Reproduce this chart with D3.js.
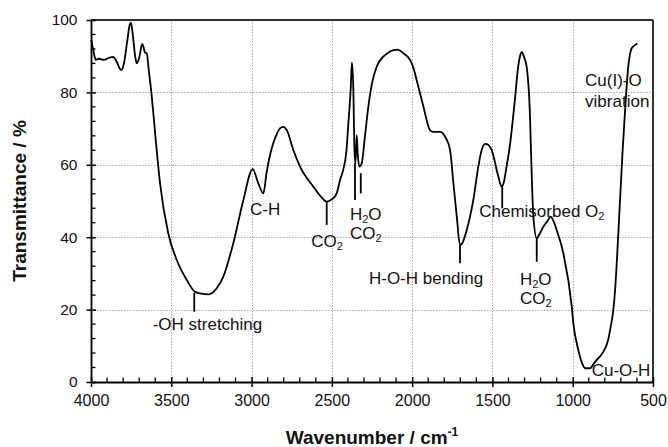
<!DOCTYPE html>
<html><head><meta charset="utf-8">
<script src="https://cdn.jsdelivr.net/npm/d3@7"></script>
<style>
html,body{margin:0;padding:0;background:#fff;}
svg text{font-family:"Liberation Sans",Arial,sans-serif;}
</style></head>
<body>
<svg id="chart" width="668" height="447"></svg>
<script>
// ---- data ----
const wavenumber = [3998,3986,3971,3950,3920,3890,3863,3840,3820,3809,3795,3775,3760,3751,3740,3725,3715,3700,3681,3670,3664,3653,3640,3628,3591,3570,3519,3466,3404,3352,3321,3269,3217,3176,3114,3051,2993,2958,2927,2906,2875,2843,2820,2802,2780,2740,2698,2616,2560,2532,2500,2470,2449,2430,2410,2397,2383,2375,2366,2360,2353,2345,2339,2329,2314,2294,2273,2250,2221,2180,2169,2117,2090,2055,2013,1990,1972,1930,1889,1868,1826,1795,1764,1743,1722,1702,1690,1660,1619,1588,1567,1545,1525,1505,1463,1443,1430,1412,1395,1360,1340,1325,1318,1305,1287,1266,1260,1245,1224,1210,1183,1160,1137,1120,1100,1058,1006,996,965,940,923,892,870,850,809,780,767,747,736,716,689,670,654,633,615,598];
const transmittance = [94.5,91.7,89.0,89.3,89.0,89.5,89.8,88.5,86.5,86.2,88,94,98.5,99.3,96,90,88,89.5,93.4,92,91,90.8,86,81.6,64.1,54.9,41.1,33.7,28.2,24.9,24.5,24.2,25.9,29.1,38.3,50.3,58.8,54.9,52.1,58,64.5,68.5,70.2,70.5,69.5,64.1,59.5,54,50.8,49.8,50.5,52.1,55.8,58.5,63.5,71.5,80.7,88.2,80.7,65,60.4,68.2,63.2,59.5,60.4,67.8,76,82.5,87.1,89.9,90.3,91.7,91.8,90.8,89.0,86.5,83.4,76.1,69.6,69.1,69.1,67.8,64.1,54.9,45.7,37.8,38.2,42,50.3,59.5,64.1,65.8,65.5,64.1,56.7,54,55,59.5,64.1,78,87,90.5,91.2,90,87.1,73.3,64.1,45.7,39.7,40.6,42.9,44.3,45.7,44.5,42,35.5,20.8,16.2,8.8,5,3.8,3.8,5,6.1,8.4,11.5,14.4,19.9,25.4,41,64.1,77.9,87.1,92.2,93,93.5];

const xTicks = [4000,3500,3000,2500,2000,1500,1000,500];
const yTicks = [0,20,40,60,80,100];
const xTitle = "Wavenumber / cm";
const xTitleSup = "-1";
const yTitle = "Transmittance / %";

// annotation label lines
const labelText   = ["-OH stretching","C-H","CO","H","CO","H-O-H bending","Chemisorbed O","H","CO","Cu(I)-O","vibration","Cu-O-H"];
const labelSub    = ["","","2","2","2","","2","2","2","","",""];
const labelTail   = ["","","","O","","","","O","","","",""];
const labelWn     = [3616,3010,2530,2289,2289,2269,1582,1230,1230,923,923,882];
const labelT      = [14.4,46.1,37.4,44.8,39.4,27.2,45.7,26.8,21.5,81.8,76.0,1.7];
const labelAnchor = ["start","start","middle","middle","middle","start","start","middle","middle","start","start","start"];

// marker ticks: wavenumber, top T, bottom T
const markWn  = [3357,2532,2356,2320,1702,1439,1224];
const markTop = [24.6,49.7,60.5,57.7,37.8,54.0,39.7];
const markBot = [19.4,43.4,50.3,52.1,32.8,48.0,33.2];

// ---- drawing ----
const svg = d3.select("#chart");
const L=91, R=653, T=20, B=382;
const x = d3.scaleLinear().domain([4000,500]).range([L,R]);
const y = d3.scaleLinear().domain([0,100]).range([B,T]);

// grid
const grid = svg.append("g").attr("class","grid");
xTicks.filter(d=>d<4000&&d>500).forEach(d=>{
  grid.append("line").attr("x1",Math.round(x(d))+0.5).attr("x2",Math.round(x(d))+0.5).attr("y1",T).attr("y2",B)
    .attr("stroke","#a8a8a8").attr("stroke-width",1).attr("stroke-dasharray","1.5,1.5");
});
yTicks.filter(d=>d>0&&d<100).forEach(d=>{
  grid.append("line").attr("x1",L).attr("x2",R).attr("y1",Math.round(y(d))+0.5).attr("y2",Math.round(y(d))+0.5)
    .attr("stroke","#a8a8a8").attr("stroke-width",1).attr("stroke-dasharray","1.5,1.5");
});

// frame top/right
svg.append("line").attr("x1",L).attr("x2",R).attr("y1",T).attr("y2",T).attr("stroke","#333").attr("stroke-width",2);
svg.append("line").attr("x1",R).attr("x2",R).attr("y1",T).attr("y2",B).attr("stroke","#333").attr("stroke-width",2);

// minor ticks
const xMinor = d3.range(600,4000,100).filter(d=>d%500!==0);
svg.append("g").selectAll("line").data(xMinor).join("line")
  .attr("x1",d=>x(d)).attr("x2",d=>x(d)).attr("y1",B).attr("y2",B-4.5)
  .attr("stroke","#000").attr("stroke-width",1.3);
const yMinor = d3.range(4,100,4).filter(d=>d%20!==0);
svg.append("g").selectAll("line").data(yMinor).join("line")
  .attr("x1",L).attr("x2",L+4.5).attr("y1",d=>y(d)).attr("y2",d=>y(d))
  .attr("stroke","#000").attr("stroke-width",1.3);

// axes
const xAxis = d3.axisBottom(x).tickValues(xTicks).tickSizeInner(5).tickSizeOuter(0).tickPadding(8).tickFormat(d3.format("d"));
const ax = svg.append("g").attr("transform",`translate(0,${B})`).call(xAxis);
ax.select(".domain").attr("stroke","#000").attr("stroke-width",1.8);
ax.selectAll(".tick line").attr("stroke","#000").attr("stroke-width",1.5).attr("y1",-5);
ax.selectAll(".tick text").attr("font-size","16px").attr("fill","#111").style("font-family","'Liberation Sans',Arial,sans-serif");

const yAxis = d3.axisLeft(y).tickValues(yTicks).tickSizeInner(4.5).tickSizeOuter(0).tickPadding(9);
const ay = svg.append("g").attr("transform",`translate(${L},0)`).call(yAxis);
ay.select(".domain").attr("stroke","#000").attr("stroke-width",1.8);
ay.selectAll(".tick line").attr("stroke","#000").attr("stroke-width",1.5).attr("x2",-4.5).attr("x1",5);
ay.selectAll(".tick text").attr("font-size","15.5px").attr("fill","#111").style("font-family","'Liberation Sans',Arial,sans-serif");

// curve
const pts = wavenumber.map((w,i)=>[x(w), y(transmittance[i])]);
svg.append("path").datum(pts)
  .attr("d", d3.line().curve(d3.curveMonotoneX))
  .attr("fill","none").attr("stroke","#000").attr("stroke-width",1.8).attr("stroke-linejoin","round");

// marker ticks
svg.append("g").selectAll("line").data(markWn).join("line")
  .attr("x1",d=>x(d)).attr("x2",d=>x(d))
  .attr("y1",(d,i)=>y(markTop[i])).attr("y2",(d,i)=>y(markBot[i]))
  .attr("stroke","#000").attr("stroke-width",1.8);

// labels
labelText.forEach((t,i)=>{
  const tx = svg.append("text").attr("x",x(labelWn[i])).attr("y",y(labelT[i]))
    .attr("text-anchor",labelAnchor[i]).attr("font-size","17px").attr("fill","#111");
  tx.append("tspan").text(t);
  if(labelSub[i]){
    tx.append("tspan").attr("font-size","11px").attr("dy",3).text(labelSub[i]);
    if(labelTail[i]) tx.append("tspan").attr("dy",-3).text(labelTail[i]);
  }
});

// axis titles
const xt = svg.append("text").attr("x",(L+R)/2).attr("y",444).attr("text-anchor","middle")
  .attr("font-size","19px").attr("font-weight","bold").attr("fill","#111");
xt.append("tspan").text(xTitle);
xt.append("tspan").attr("font-size","12px").attr("dy",-8).text(xTitleSup);

svg.append("text").attr("transform",`translate(26,${(T+B)/2}) rotate(-90)`)
  .attr("text-anchor","middle").attr("font-size","19px").attr("font-weight","bold").attr("fill","#111")
  .text(yTitle);
</script>
</body></html>
